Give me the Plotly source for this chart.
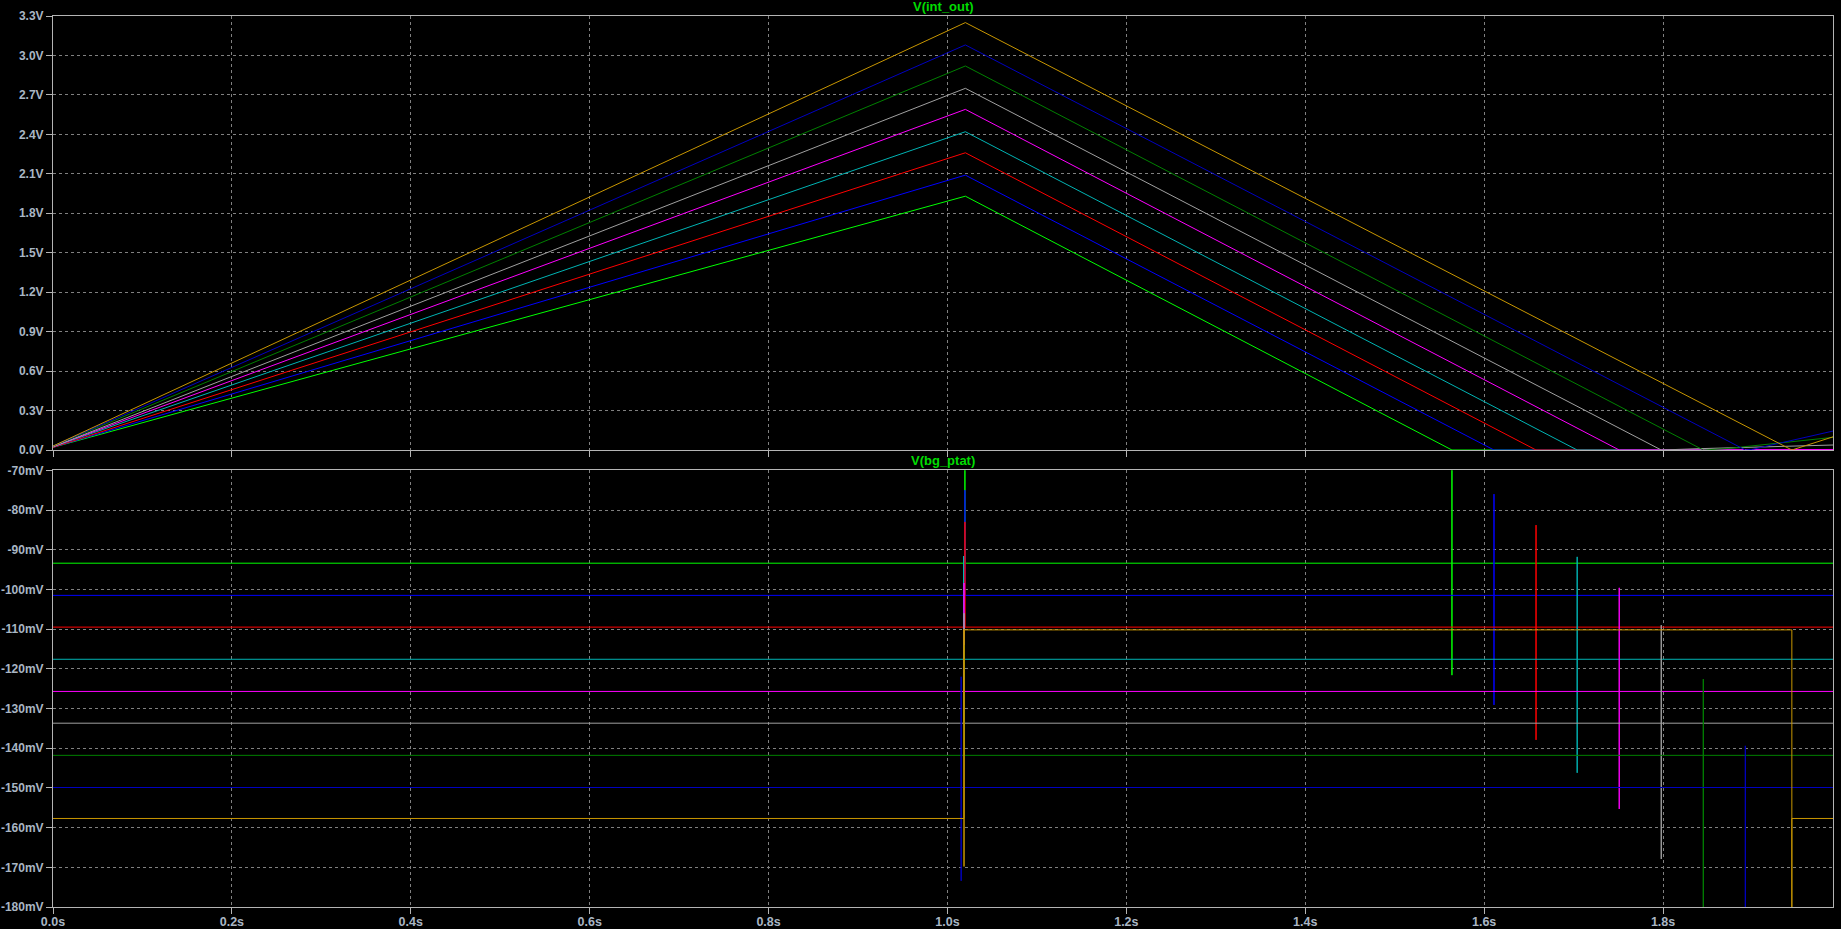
import plotly.graph_objects as go
from plotly.subplots import make_subplots

# ---------------- data ----------------
colors = ["#00ff00", "#0000ff", "#ff0000", "#00b4b4", "#ff00ff",
          "#a0a0a0", "#008000", "#0000c0", "#c89600"]

# V(int_out): ramp up, ramp down, then tail
v_start = [0.02, 0.02, 0.02, 0.025, 0.025, 0.025, 0.03, 0.03, 0.03]
t_peak = [1.02, 1.02, 1.02, 1.02, 1.02, 1.02, 1.02, 1.02, 1.02]
v_peak = [1.93, 2.09, 2.26, 2.42, 2.59, 2.75, 2.92, 3.08, 3.25]
t_zero = [1.564, 1.611, 1.658, 1.704, 1.751, 1.798, 1.845, 1.892, 1.944]
tail_t = [[1.99], [1.99], [1.99], [1.99], [1.99],
          [1.84, 1.99], [1.87, 1.99], [1.90, 1.99], [1.99]]
tail_v = [[0.0], [0.0], [0.0], [0.0], [0.004],
          [0.01, 0.038], [0.01, 0.096], [0.005, 0.144], [0.10]]

# V(bg_ptat) in mV
lvl_before = [-93.4, -101.5, -109.5, -117.6, -125.7, -133.7, -141.8, -149.9, -157.7]
lvl_mid    = [-93.4, -101.5, -109.5, -117.6, -125.7, -133.7, -141.8, -149.9, -110.2]
lvl_after  = [-93.4, -101.5, -109.5, -117.6, -125.7, -133.7, -141.8, -149.9, -157.7]
t_spike1   = [1.0195, 1.0195, 1.0195, 1.018, 1.0185, 1.0185, 1.019, 1.0153, 1.0185]
spk1_top   = [-60.0, -75.0, -83.0, -91.6, -98.4, -106.0, -114.0, -122.0, -110.0]
spk1_bot   = [-93.4, -101.5, -109.5, -117.6, -125.7, -133.7, -135.0, -173.4, -169.8]
spk2_top   = [-60.0, -76.0, -83.8, -91.8, -99.6, -109.0, -122.6, -139.4, -110.2]
spk2_bot   = [-121.6, -129.1, -137.9, -146.2, -155.3, -167.9, -190.0, -190.0, -190.0]
t_end = 1.99

x_ticks = [0.0, 0.2, 0.4, 0.6, 0.8, 1.0, 1.2, 1.4, 1.6, 1.8]
x_text = ["0.0s", "0.2s", "0.4s", "0.6s", "0.8s", "1.0s", "1.2s", "1.4s", "1.6s", "1.8s"]
y1_ticks = [0.0, 0.3, 0.6, 0.9, 1.2, 1.5, 1.8, 2.1, 2.4, 2.7, 3.0, 3.3]
y1_text = ["0.0V", "0.3V", "0.6V", "0.9V", "1.2V", "1.5V", "1.8V", "2.1V", "2.4V", "2.7V", "3.0V", "3.3V"]
y2_ticks = [-180, -170, -160, -150, -140, -130, -120, -110, -100, -90, -80, -70]
y2_text = ["-180mV", "-170mV", "-160mV", "-150mV", "-140mV", "-130mV", "-120mV",
           "-110mV", "-100mV", "-90mV", "-80mV", "-70mV"]

# ---------------- figure ----------------
W, H = 1841, 929
ml, mr, mt, mb = 53, 8, 16, 22
ph = H - mt - mb

fig = make_subplots(rows=2, cols=1, shared_xaxes=False, vertical_spacing=0.02)

for i in range(len(colors)):
    tx = [0.0, t_peak[i], t_zero[i]] + tail_t[i]
    vy = [v_start[i], v_peak[i], 0.0] + tail_v[i]
    fig.add_trace(go.Scatter(x=tx, y=vy, mode="lines",
                             line=dict(color=colors[i], width=1),
                             hoverinfo="skip", showlegend=False), row=1, col=1)

for i in range(len(colors)):
    t1 = t_spike1[i]
    t2 = t_zero[i]
    tx = [0.0, t1, t1, t1, t1, t2, t2, t2, t2, t_end]
    vy = [lvl_before[i], lvl_before[i], spk1_top[i], spk1_bot[i], lvl_mid[i],
          lvl_mid[i], spk2_top[i], spk2_bot[i], lvl_after[i], lvl_after[i]]
    fig.add_trace(go.Scatter(x=tx, y=vy, mode="lines",
                             line=dict(color=colors[i], width=1),
                             hoverinfo="skip", showlegend=False), row=2, col=1)

tick_font = dict(family="Liberation Sans", size=12.5, color="#a9b6c4", weight="bold")
ytick_font = dict(family="Liberation Sans", size=12, color="#a9b6c4", weight="bold")
axis_common = dict(showline=True, mirror=True, linecolor="#b4b4b4", linewidth=1,
                   showgrid=True, gridcolor="#808080", griddash="3px,3px", gridwidth=1,
                   ticks="outside", ticklen=6, tickcolor="#b4b4b4",
                   zeroline=False, fixedrange=True, automargin=False)

top_bottom = (H - mb - 450) / ph
bot_top = (H - mb - 470.3) / ph

fig.update_xaxes(range=[0, t_end], tickvals=x_ticks, ticktext=x_text,
                 ticklabelstandoff=-3, tickfont=tick_font, **axis_common)
fig.update_xaxes(showticklabels=False, domain=[0, 1], row=1, col=1)
fig.update_xaxes(domain=[0, 1], row=2, col=1)
fig.update_yaxes(range=[0, 3.3], tickvals=y1_ticks, ticktext=y1_text, ticklabelstandoff=0,
                 tickfont=ytick_font, domain=[top_bottom, 1], row=1, col=1, **axis_common)
fig.update_yaxes(range=[-180, -70], tickvals=y2_ticks, ticktext=y2_text, ticklabelstandoff=0,
                 tickfont=ytick_font, domain=[0, bot_top], row=2, col=1, **axis_common)

title_font = dict(family="Liberation Sans", size=13, color="#00dc00", weight="bold")
fig.add_annotation(text="V(int_out)", xref="paper", yref="paper", x=0.5,
                   y=1 + (mt - 7) / ph, yanchor="middle", showarrow=False, font=title_font)
fig.add_annotation(text="V(bg_ptat)", xref="paper", yref="paper", x=0.5,
                   y=(H - mb - 461) / ph, yanchor="middle", showarrow=False, font=title_font)

fig.update_layout(width=W, height=H, margin=dict(l=ml, r=mr, t=mt, b=mb),
                  paper_bgcolor="#000000", plot_bgcolor="#000000",
                  showlegend=False, hovermode=False)

fig.write_html("out.html", config={"displayModeBar": False},
               post_script="document.body.style.margin='0px';document.body.style.overflow='hidden';document.body.style.background='#000';")
